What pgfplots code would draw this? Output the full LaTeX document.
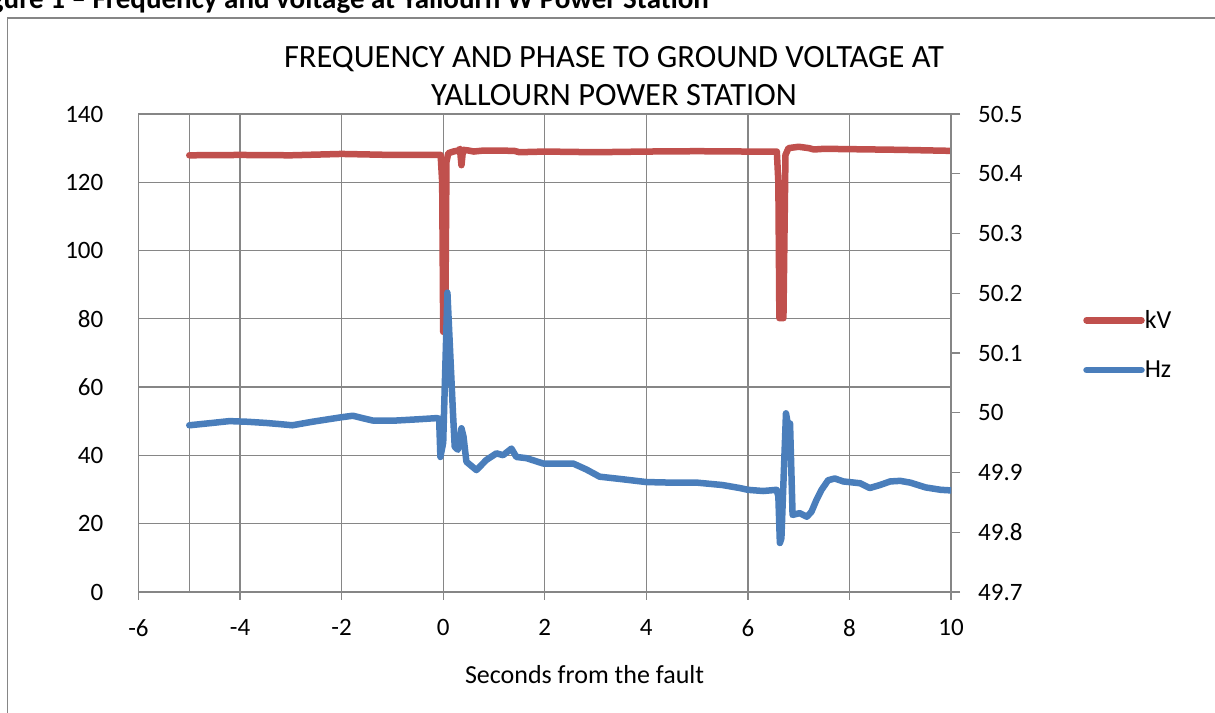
\documentclass[border=0pt]{standalone}
\usepackage{fontspec}
\setmainfont{Carlito}
\usepackage{pgfplots}
\pgfplotsset{compat=1.18}
\definecolor{kvred}{RGB}{192,80,77}
\definecolor{hzblue}{RGB}{74,126,187}
\definecolor{gridgray}{RGB}{134,134,134}
\newcommand\tickfont{\fontsize{25bp}{30bp}\selectfont}
\newcommand\labfont{\fontsize{26bp}{31bp}\selectfont}
\newcommand\titfont{\fontsize{32.5bp}{38.5bp}\selectfont}
\newcommand\capfont{\fontsize{29bp}{34bp}\selectfont\bfseries}
\begin{document}
\begin{tikzpicture}[x=1bp,y=1bp]
\path[use as bounding box] (0,0) rectangle (1215,713);
\begin{scope}
\clip (0,0) rectangle (1215,713);
\draw[gridgray, line width=1.5bp] (7.5,-20) -- (7.5,695) -- (1240,695);
\node[anchor=base east, inner sep=0pt, font=\capfont] at (709,704.5) {Figure 1 – Frequency and voltage at Yallourn W Power Station};
\end{scope}
\begin{axis}[
  at={(138.5bp,121bp)}, anchor=south west,
  width=812.5bp, height=478bp, scale only axis,
  xmin=-6, xmax=10, ymin=0, ymax=140,
  xtick={-6,-4,-2,0,2,4,6,8,10},
  ytick={0,20,40,60,80,100,120,140},
  extra x ticks={-5}, extra x tick labels={},
  extra x tick style={grid=major, major tick length=0pt},
  xtick pos=bottom, ytick pos=left,
  tick align=outside, major tick length=8bp,
  ytick style={draw=none},
  tick style={gridgray, line width=1.3bp},
  grid=major,
  major grid style={gridgray, line width=1.3bp},
  axis line style={gridgray, line width=1.3bp},
  /pgf/number format/assume math mode=true,
  ticklabel style={font=\tickfont, text=black},
  xticklabel style={anchor=north, inner sep=0pt, yshift=-19bp},
  yticklabel style={anchor=east, inner sep=0pt, xshift=-27bp},
  title={FREQUENCY AND PHASE TO GROUND VOLTAGE AT\\YALLOURN POWER STATION},
  title style={at={(axis description cs:0.5852,1.1298)}, anchor=north, inner sep=0pt, align=center, font=\titfont},
  xlabel={Seconds from the fault},
  xlabel style={at={(axis description cs:0.549,-0.1736)}, anchor=center, inner sep=0pt, font=\labfont},
  legend style={draw=none, fill=none, at={(axis description cs:1.1625,0.5893)}, anchor=north west, inner sep=0pt, font=\labfont, row sep=31bp, nodes={inner sep=0pt}},
  legend cell align=left,
  legend image code/.code={\draw[#1, line width=6.5bp, line cap=round] (0bp,0bp) -- (55bp,0bp);},
]
\addplot[kvred, line width=6.5bp, line join=round, line cap=round] coordinates {
(-5,127.9) (-4,128.0) (-3,127.9) (-2,128.3) (-1,128.0) (-0.05,128.0) (-0.02,120) (0.0,76.2) (0.04,76.2) (0.065,126) (0.1,128.5) (0.2,129.0) (0.3,129.3) (0.33,129.8) (0.36,125) (0.39,129.5) (0.5,129.3) (0.6,129.0) (0.8,129.3) (1.0,129.3) (1.4,129.2) (1.5,128.8) (2.0,129.0) (3.0,128.8) (4.0,129.0) (5.0,129.1) (6.0,129.0) (6.57,129.0) (6.6,120) (6.62,80.2) (6.7,80.2) (6.74,128) (6.8,130.0) (7.0,130.4) (7.2,130.0) (7.3,129.6) (7.5,129.8) (8.0,129.7) (9.0,129.5) (10.0,129.2)
};
\addlegendentry{kV}
\addlegendimage{hzblue}
\addlegendentry{Hz}
\end{axis}
\begin{axis}[
  at={(138.5bp,121bp)}, anchor=south west,
  width=812.5bp, height=478bp, scale only axis,
  xmin=-6, xmax=10, ymin=49.7, ymax=50.5,
  axis x line=none, axis y line*=right,
  ytick={49.7,49.8,49.9,50,50.1,50.2,50.3,50.4,50.5},
  yticklabels={49.7,49.8,49.9,50,50.1,50.2,50.3,50.4,50.5},
  tick align=outside, major tick length=9bp,
  tick style={gridgray, line width=1.3bp},
  axis line style={gridgray, line width=1.3bp},
  ticklabel style={font=\tickfont, text=black},
  yticklabel style={anchor=west, inner sep=0pt, xshift=18bp},
]
\addplot[hzblue, line width=6.5bp, line join=round, line cap=round] coordinates {
(-5.00,49.979) (-4.54,49.983) (-4.21,49.986) (-3.88,49.985) (-3.50,49.983) (-3.22,49.981) (-2.97,49.979) (-2.57,49.985) (-2.04,49.992) (-1.78,49.995) (-1.59,49.991) (-1.39,49.987) (-0.92,49.987) (-0.50,49.989) (-0.13,49.991) (-0.08,49.990) (-0.055,49.926) (0.00,49.950) (0.083,50.201) (0.193,49.999) (0.227,49.943) (0.29,49.938) (0.36,49.974) (0.40,49.960) (0.457,49.918) (0.654,49.904) (0.85,49.921) (1.048,49.932) (1.18,49.929) (1.344,49.940) (1.44,49.926) (1.64,49.924) (1.97,49.915) (2.30,49.915) (2.56,49.915) (2.82,49.905) (3.08,49.893) (3.50,49.889) (4.00,49.884) (4.50,49.883) (5.00,49.883) (5.50,49.879) (5.84,49.874) (6.00,49.871) (6.30,49.869) (6.565,49.871) (6.60,49.86) (6.63,49.782) (6.66,49.79) (6.75,49.999) (6.80,49.975) (6.83,49.982) (6.88,49.829) (7.02,49.832) (7.16,49.826) (7.25,49.834) (7.35,49.854) (7.45,49.871) (7.58,49.887) (7.71,49.890) (7.88,49.885) (8.21,49.882) (8.40,49.874) (8.60,49.879) (8.80,49.885) (9.00,49.886) (9.20,49.883) (9.50,49.875) (9.80,49.871) (10.00,49.870)
};
\end{axis}
\end{tikzpicture}
\end{document}
